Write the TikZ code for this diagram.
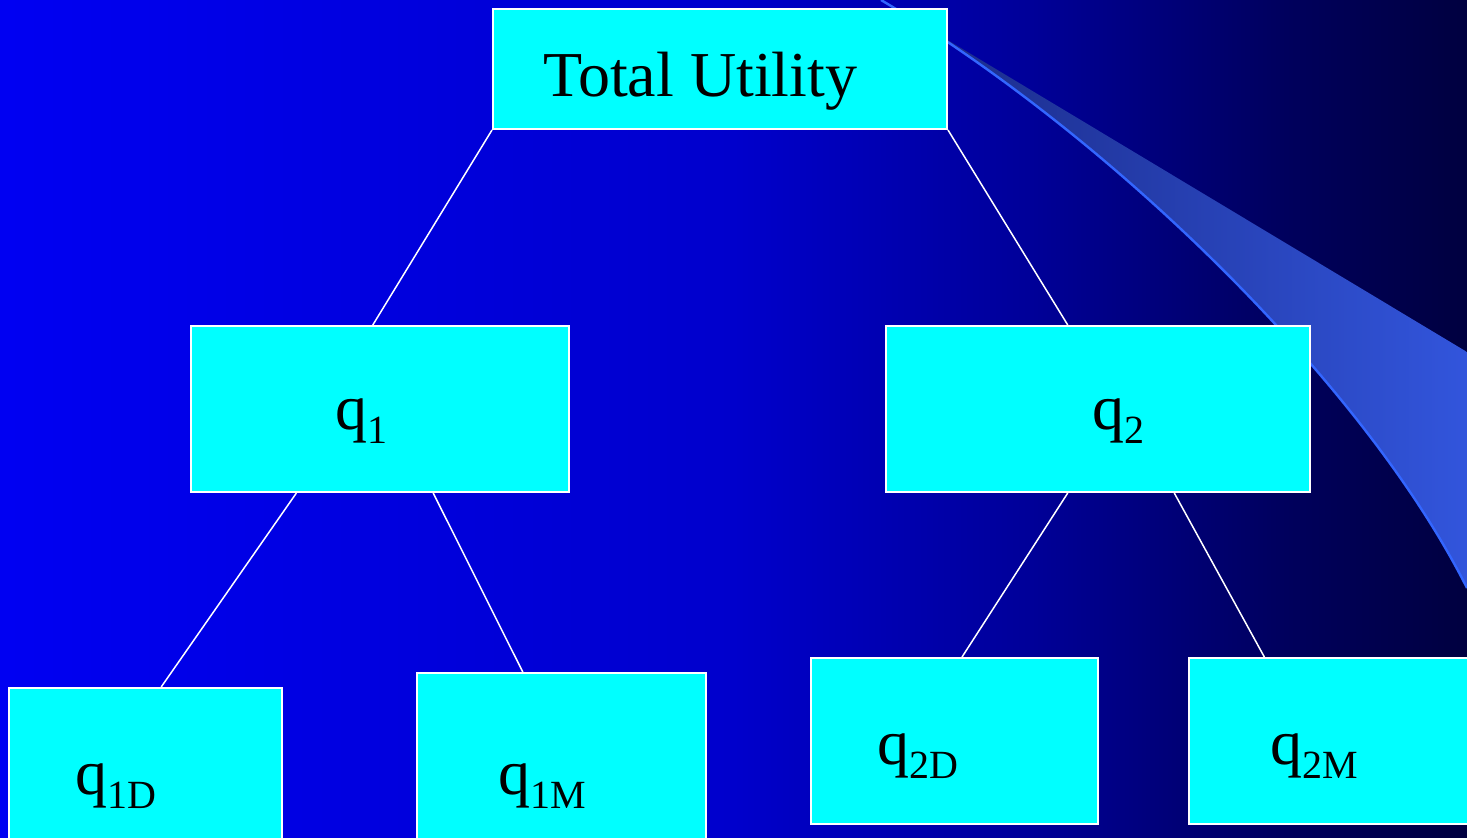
\documentclass[tikz,border=0pt]{standalone}
\usepackage{fontspec}
\setmainfont{Liberation Serif}
\usetikzlibrary{calc}
\definecolor{boxcyan}{RGB}{0,255,255}
\definecolor{swooshline}{RGB}{51,102,255}
\definecolor{swooshdark}{RGB}{25,40,130}
\definecolor{swooshlight}{RGB}{50,85,220}
\pgfdeclarehorizontalshading{bgshade}{100bp}{rgb(0bp)=(0,0,0.95); rgb(25bp)=(0,0,0.95); rgb(50bp)=(0,0,0.8); rgb(60bp)=(0,0,0.6); rgb(69bp)=(0,0,0.36); rgb(75bp)=(0,0,0.25); rgb(100bp)=(0,0,0.25)}
\newcommand\lowsub[1]{\raisebox{-7pt}{\fontsize{20}{20}\selectfont #1}}
\begin{document}
\begin{tikzpicture}[x=0.5pt,y=-0.5pt,
  box/.style={draw=white, line width=1pt, fill=boxcyan, rectangle, inner sep=0pt},
  lbl/.style={anchor=base west, inner sep=0pt, text=black, font=\fontsize{32}{32}\selectfont},
  conn/.style={draw=white, line width=0.75pt}]
\useasboundingbox (0,0) rectangle (1467,837);
\shade[shading=bgshade] (0,0) rectangle (1467,837);
% swoosh
\shade[left color=swooshdark, right color=swooshlight]
  (881,0) -- (1467,352) -- (1467,588) .. controls (1365,385) and (1110,135) .. (881,0) -- cycle;
\draw[swooshline, line width=1.2pt] (881,0) .. controls (1110,135) and (1365,385) .. (1467,588);
% boxes
\node[box, minimum width=227pt, minimum height=60pt] (tu) at (720,69) {};
\node[box, minimum width=189pt, minimum height=83pt] (q1) at (380,409) {};
\node[box, minimum width=212pt, minimum height=83pt] (q2) at (1098,409) {};
\node[box, minimum width=136.5pt, minimum height=86pt] (q1d) at (145.5,774) {};
\node[box, minimum width=144.5pt, minimum height=93.5pt] (q1m) at (561.5,766.5) {};
\node[box, minimum width=143.5pt, minimum height=83pt] (q2d) at (954.5,741) {};
\node[box, minimum width=150.5pt, minimum height=83pt] (q2m) at (1339.5,741) {};
% labels
\node[lbl] (tut) at (543,96) {Total Utility};
\node[lbl] (q1t) at (335,429) {q\lowsub{1}};
\node[lbl] (q2t) at (1092,429) {q\lowsub{2}};
\node[lbl] (q1dt) at (75,794) {q\lowsub{1D}};
\node[lbl] (q1mt) at (498,794) {q\lowsub{1M}};
\node[lbl] (q2dt) at (877,764) {q\lowsub{2D}};
\node[lbl] (q2mt) at (1270,764) {q\lowsub{2M}};
% connectors
\draw[conn] (tu.south west) -- ($(q1.north west)!0.481!(q1.north east)$);
\draw[conn] (tu.south east) -- ($(q2.north west)!0.429!(q2.north east)$);
\draw[conn] ($(q1.south west)!0.280!(q1.south east)$) -- ($(q1d.north west)!0.557!(q1d.north east)$);
\draw[conn] ($(q1.south west)!0.640!(q1.south east)$) -- ($(q1m.north west)!0.367!(q1m.north east)$);
\draw[conn] ($(q2.south west)!0.429!(q2.south east)$) -- ($(q2d.north west)!0.526!(q2d.north east)$);
\draw[conn] ($(q2.south west)!0.679!(q2.south east)$) -- ($(q2m.north west)!0.252!(q2m.north east)$);
\end{tikzpicture}
\end{document}
